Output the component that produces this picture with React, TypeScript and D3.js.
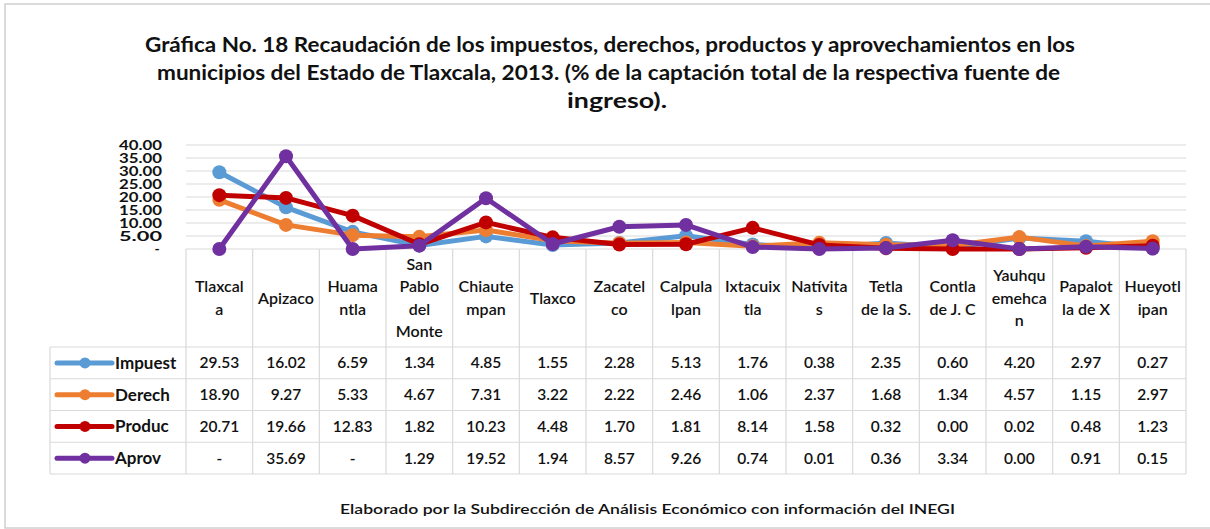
import React from 'react'
import { scaleBand, scaleLinear, line, range } from 'd3'

const categories = [
  ['Tlaxcal', 'a'], ['Apizaco'], ['Huama', 'ntla'], ['San', 'Pablo', 'del', 'Monte'],
  ['Chiaute', 'mpan'], ['Tlaxco'], ['Zacatel', 'co'], ['Calpula', 'lpan'],
  ['Ixtacuix', 'tla'], ['Natívita', 's'], ['Tetla', 'de la S.'], ['Contla', 'de J. C'],
  ['Yauhqu', 'emehca', 'n'], ['Papalot', 'la de X'], ['Hueyotl', 'ipan'],
]

const impuest = [29.53, 16.02, 6.59, 1.34, 4.85, 1.55, 2.28, 5.13, 1.76, 0.38, 2.35, 0.6, 4.2, 2.97, 0.27]
const derech = [18.9, 9.27, 5.33, 4.67, 7.31, 3.22, 2.22, 2.46, 1.06, 2.37, 1.68, 1.34, 4.57, 1.15, 2.97]
const produc = [20.71, 19.66, 12.83, 1.82, 10.23, 4.48, 1.7, 1.81, 8.14, 1.58, 0.32, 0.0, 0.02, 0.48, 1.23]
// null = "-" en la tabla (se grafica en cero)
const aprov = [null, 35.69, null, 1.29, 19.52, 1.94, 8.57, 9.26, 0.74, 0.01, 0.36, 3.34, 0.0, 0.91, 0.15]

const seriesNames = ['Impuest', 'Derech', 'Produc', 'Aprov']
const seriesColors = ['#5b9bd5', '#ed7d31', '#c00000', '#7030a0']
const yTicks = [0, 5, 10, 15, 20, 25, 30, 35, 40]

const titleLines = [
  'Gráfica No. 18 Recaudación de los impuestos, derechos, productos y aprovechamientos en los',
  'municipios del Estado de Tlaxcala, 2013. (% de la captación total de la respectiva fuente de',
  'ingreso).',
]

const font = 'Lato, "Open Sans", sans-serif'

const App = () => {
  const series = [impuest, derech, produc, aprov]
  const left = 186
  const right = 1186
  const x = scaleBand<number>().domain(range(categories.length)).range([left, right])
  const bw = x.bandwidth()
  const cx = (i: number) => (x(i) as number) + bw / 2
  const y = scaleLinear().domain([0, 40]).range([249, 145])

  const catTop = y(0)
  const catBottom = 347
  const rowH = 31.75
  const tableLeft = 50
  const tableBottom = catBottom + rowH * 4

  const path = line<number | null>()
    .x((_, i) => cx(i))
    .y(d => y(d ?? 0))

  const fmt = (v: number | null) => (v === null ? '-' : v.toFixed(2))
  const titleSpan = [[145, 1075], [157, 1060], [567, 667]]

  return (
    <svg width={1210} height={529} style={{ position: 'absolute', left: 0, top: 0 }} fontFamily={font}>
      <rect x={0} y={0} width={1210} height={529} fill="#fff" />
      <rect x={5} y={4} width={1210} height={524} fill="none" stroke="#cfcfcf" strokeWidth={1.5} />

      <g fontSize={20} fontWeight={700} fill="#111">
        {titleLines.map((t, k) => (
          <text key={k} x={titleSpan[k][0]} y={52 + k * 28} textLength={titleSpan[k][1] - titleSpan[k][0]} lengthAdjust="spacingAndGlyphs">
            {t}
          </text>
        ))}
      </g>

      {/* cuadrícula y eje */}
      {yTicks.map(t => (
        <g key={t}>
          {t > 0 && <line x1={left} x2={right} y1={y(t)} y2={y(t)} stroke="#d9d9d9" strokeWidth={1.2} />}
          {t > 0 ? (
            <text x={119} y={y(t)} dy="0.35em" fontSize={14} fontWeight={700} fill="#111" textLength={43} lengthAdjust="spacingAndGlyphs">
              {t.toFixed(2)}
            </text>
          ) : (
            <text x={157} y={y(t)} dy="0.35em" textAnchor="middle" fontSize={14} fontWeight={700} fill="#111">-</text>
          )}
        </g>
      ))}

      {/* tabla */}
      <g stroke="#d9d9d9" strokeWidth={1.2}>
        <line x1={left} x2={right} y1={catTop} y2={catTop} />
        {range(5).map(r => (
          <line key={r} x1={tableLeft} x2={right} y1={catBottom + r * rowH} y2={catBottom + r * rowH} />
        ))}
        <line x1={tableLeft} x2={tableLeft} y1={catBottom} y2={tableBottom} />
        {range(categories.length + 1).map(i => (
          <line key={i} x1={left + i * bw} x2={left + i * bw} y1={catTop} y2={tableBottom} />
        ))}
      </g>

      {categories.map((c, i) => (
        <text key={i} textAnchor="middle" fontSize={16} fontWeight={600} fill="#111">
          {c.map((s, k) => (
            <tspan key={k} x={cx(i)} y={(catTop + catBottom) / 2 + (k - (c.length - 1) / 2) * 22.5} dy="0.35em">
              {s}
            </tspan>
          ))}
        </text>
      ))}

      {series.map((s, r) => {
        const rowY = catBottom + r * rowH + rowH / 2
        return (
          <g key={r}>
            <line x1={57} x2={112} y1={rowY} y2={rowY} stroke={seriesColors[r]} strokeWidth={5} strokeLinecap="round" />
            <circle cx={85} cy={rowY} r={5.5} fill={seriesColors[r]} />
            <text x={115} y={rowY} dy="0.35em" fontSize={17} fontWeight={700} fill="#111">{seriesNames[r]}</text>
            {s.map((v, i) => (
              <text key={i} x={cx(i)} y={rowY} dy="0.35em" textAnchor="middle" fontSize={15.5} fontWeight={600} fill="#111">
                {fmt(v)}
              </text>
            ))}
          </g>
        )
      })}

      {/* líneas */}
      {series.map((s, r) => (
        <g key={r}>
          <path d={path(s) as string} fill="none" stroke={seriesColors[r]} strokeWidth={5} strokeLinejoin="round" />
          {s.map((v, i) => (
            <circle key={i} cx={cx(i)} cy={y(v ?? 0)} r={7} fill={seriesColors[r]} />
          ))}
        </g>
      ))}

      <text x={340} y={514} fontSize={14} fontWeight={600} fill="#111" textLength={615} lengthAdjust="spacingAndGlyphs">
        Elaborado por la Subdirección de Análisis Económico con información del INEGI
      </text>
    </svg>
  )
}

export default App
